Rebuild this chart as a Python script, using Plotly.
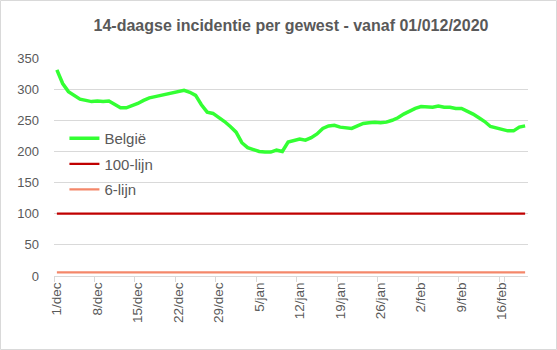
import plotly.graph_objects as go

# ---- data ----
dec = [f"{d}/dec" for d in range(1, 32)]
jan = [f"{d}/jan" for d in range(1, 32)]
feb = [f"{d}/feb" for d in range(1, 21)]
days = dec + jan + feb

belgie = [331, 309, 296, 290, 284, 282, 280, 281, 280, 281,
          275, 270, 270, 273, 277, 282, 286, 288, 290, 293,
          295, 296, 298, 295, 290, 275, 263, 261, 255, 248,
          240, 231, 214, 206, 203, 200, 199, 199, 202, 200,
          215, 217, 220, 218, 222, 228, 237, 241, 242, 239,
          238, 237, 241, 245, 246, 247, 246, 247, 250, 254,
          260, 265, 269, 272, 272, 271, 273, 271, 271, 269,
          269, 265, 260, 254, 248, 240, 238, 236, 233, 233,
          239, 241]
lijn100 = [100] * len(days)
lijn6 = [6] * len(days)

tick_labels = days[::7]
y_ticks = [0, 50, 100, 150, 200, 250, 300, 350]

title_text = "14-daagse incidentie per gewest - vanaf 01/012/2020"

# ---- style ----
FONT = "Liberation Sans"
TXT = "#595959"
GRID = "#d9d9d9"

W, H = 557, 350
ML, MR, MT, MB = 54, 29, 58, 74

fig = go.Figure()
fig.add_trace(go.Scatter(x=days, y=belgie, name="België", mode="lines",
                         line=dict(color="#33ff33", width=3.5), legendgroup="a"))
fig.add_trace(go.Scatter(x=days, y=lijn100, name="100-lijn", mode="lines",
                         line=dict(color="#c00000", width=2.25), legendgroup="b"))
fig.add_trace(go.Scatter(x=days, y=lijn6, name="6-lijn", mode="lines",
                         line=dict(color="#f4876a", width=2.25), legendgroup="c"))

pw = W - ML - MR
ph = H - MT - MB

fig.update_layout(
    width=W, height=H,
    margin=dict(l=ML, r=MR, t=MT, b=MB),
    paper_bgcolor="white", plot_bgcolor="white",
    font=dict(family=FONT, color=TXT, size=13),
    title=dict(text=title_text, x=0.5, xanchor="center", xref="paper",
               y=1 - 25 / H, yanchor="middle", yref="container",
               font=dict(family=FONT, size=16, color=TXT, weight="bold")),
    showlegend=True,
    legend=dict(x=0.022, y=0.706, xanchor="left", yanchor="top",
                bgcolor="rgba(0,0,0,0)", font=dict(size=15, color=TXT),
                tracegroupgap=3, traceorder="grouped"),
    xaxis=dict(type="category", tickmode="array", tickvals=tick_labels,
               ticktext=tick_labels, tickangle=-90, tickson="boundaries",
               ticks="outside", ticklen=5, tickcolor=GRID,
               showline=True, linecolor=GRID, linewidth=1,
               showgrid=False, zeroline=False,
               range=[-0.5, len(days) - 0.5],
               tickfont=dict(size=13.5, color=TXT)),
    yaxis=dict(range=[0, 350], tickvals=y_ticks, showgrid=True,
               gridcolor=GRID, gridwidth=1, zeroline=False, showline=False,
               ticks="", ticklabelstandoff=14,
               tickfont=dict(size=13, color=TXT)),
)

# chart-area border
fig.add_shape(type="rect", xref="paper", yref="paper",
              x0=-(ML - 0.5) / pw, x1=1 + (MR - 0.5) / pw,
              y0=-(MB - 0.5) / ph, y1=1 + (MT - 0.5) / ph,
              line=dict(color=GRID, width=1), fillcolor="rgba(0,0,0,0)",
              layer="below")

fig.write_html("out.html")
